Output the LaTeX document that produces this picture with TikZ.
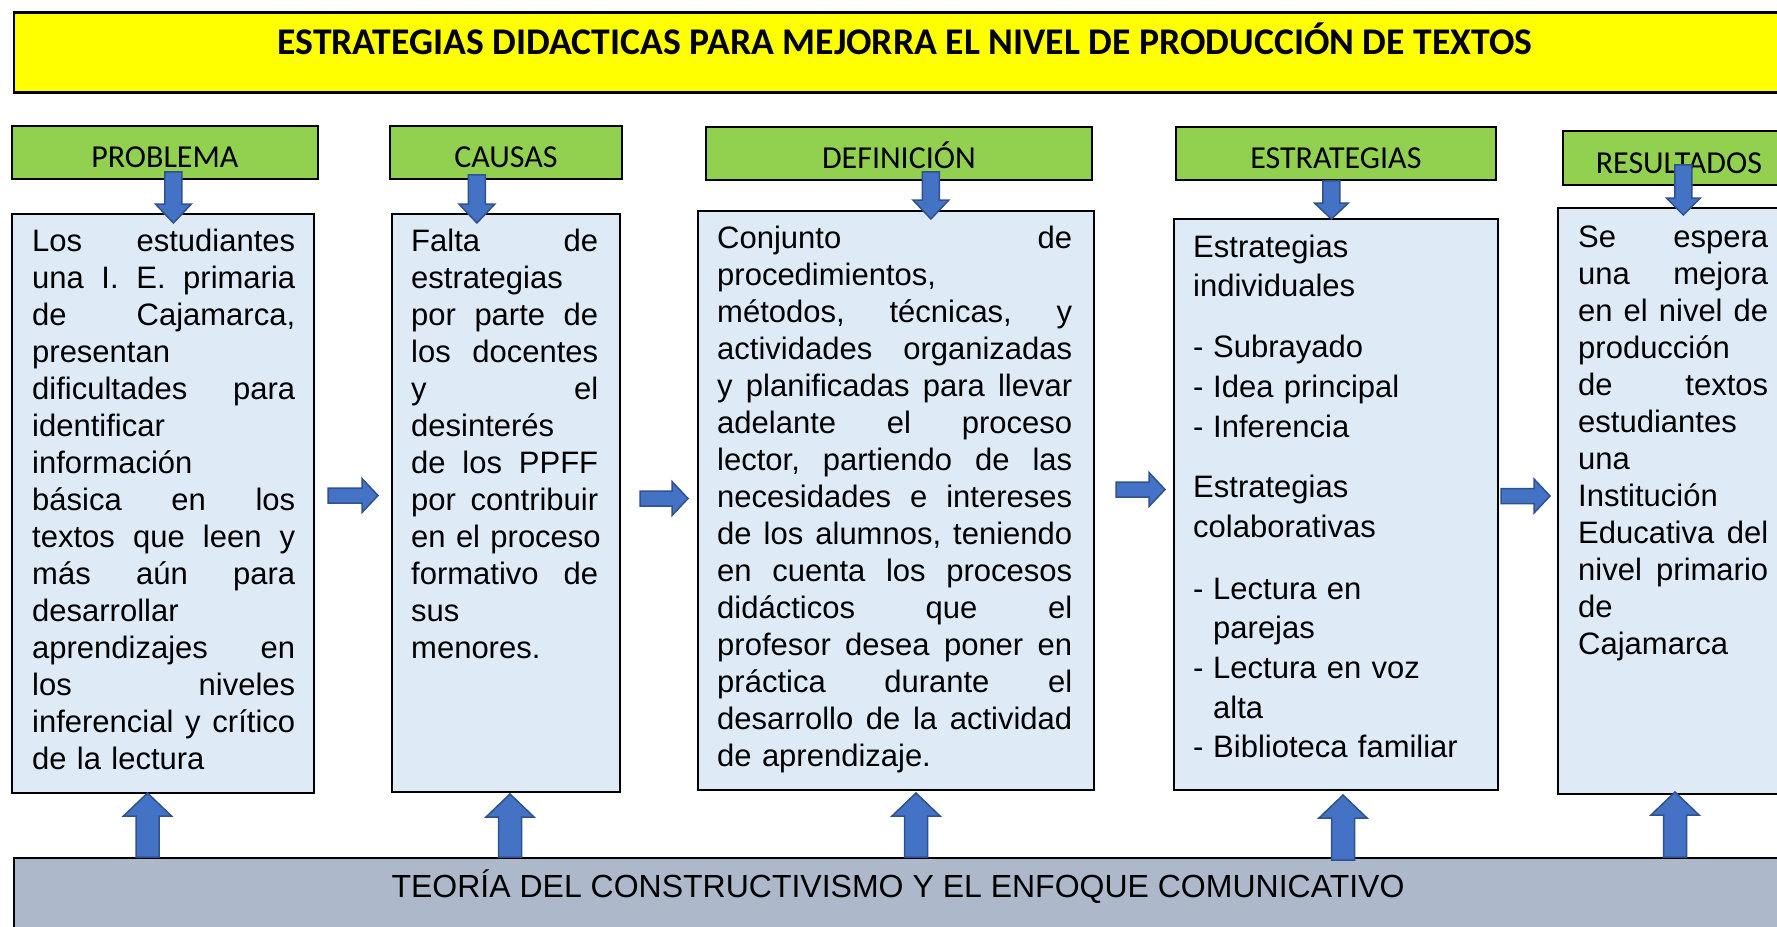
\documentclass[tikz,border=0pt]{standalone}
\usepackage{fontspec}
\setmainfont{Liberation Sans}
\newfontfamily\calib{Carlito}
\usetikzlibrary{calc}
\definecolor{ttl}{HTML}{FFFF00}
\definecolor{hdr}{HTML}{92D050}
\definecolor{bxf}{HTML}{DEEBF7}
\definecolor{barf}{HTML}{ADB9CA}
\definecolor{arf}{HTML}{4472C4}
\definecolor{ard}{HTML}{2F528F}
\newcommand\jline[1]{\leavevmode\hbox to \hsize{#1}}
\newcommand\fstrut{\rule{0pt}{30pt}}
% #1 start, #2 tip, #3 half shaft, #4 half head, #5 head length
\newcommand\blockarrow[5]{%
  \coordinate (ba-a) at (#1);
  \coordinate (ba-b) at (#2);
  \coordinate (ba-c) at ($(ba-b)!#5pt!(ba-a)$);
  \filldraw[fatarrow]
    ($(ba-a)!#3pt!90:(ba-b)$) -- ($(ba-c)!#3pt!90:(ba-b)$) --
    ($(ba-c)!#4pt!90:(ba-b)$) -- (ba-b) --
    ($(ba-c)!#4pt!-90:(ba-b)$) -- ($(ba-c)!#3pt!-90:(ba-b)$) --
    ($(ba-a)!#3pt!-90:(ba-b)$) -- cycle;}
\begin{document}
\begin{tikzpicture}[x=1pt,y=-1pt,
  ttlbox/.style={draw=black,line width=2.5pt,fill=ttl,inner sep=0pt,anchor=north west},
  hdrbox/.style={draw=black,line width=1.8pt,fill=hdr,inner sep=0pt,anchor=north west},
  hdrtxt/.style={font=\calib\fontsize{32}{38}\selectfont,anchor=base,inner sep=0pt},
  txtbox/.style={draw=black,line width=2pt,fill=bxf,inner sep=0pt,anchor=north west},
  bodytxt/.style={anchor=north west,inner sep=0pt,align=left,font=\fontsize{31}{37}\selectfont},
  barbox/.style={draw=black,line width=2pt,fill=barf,inner sep=0pt,anchor=north west},
  fatarrow/.style={fill=arf,draw=ard,line width=1.5pt,line join=miter}]
\useasboundingbox (0,0) rectangle (1777,926);
\begin{scope}
\clip (0,0) rectangle (1777,926);
% title
\node[ttlbox,minimum width=1787.5pt,minimum height=80pt] (title) at (12.5,11) {};
\node[anchor=base,inner sep=0pt,font=\calib\bfseries\fontsize{37.7}{45}\selectfont] (titletxt) at (905,54.5)
  {ESTRATEGIAS DIDACTICAS PARA MEJORRA EL NIVEL DE PRODUCCIÓN DE TEXTOS};
% headers
\node[hdrbox,minimum width=306pt,minimum height=53pt] (h1) at (11,125) {};
\node[hdrbox,minimum width=232pt,minimum height=53pt] (h2) at (389,125) {};
\node[hdrbox,minimum width=386pt,minimum height=53pt] (h3) at (705,126) {};
\node[hdrbox,minimum width=320pt,minimum height=53pt] (h4) at (1175,126) {};
\node[hdrbox,minimum width=238pt,minimum height=54pt] (h5) at (1562,130) {};
\node[hdrtxt] (h1t) at ($(h1.south)+(0,-12.5)$) {PROBLEMA};
\node[hdrtxt] (h2t) at ($(h2.south)+(0,-12.5)$) {CAUSAS};
\node[hdrtxt] (h3t) at ($(h3.south)+(0,-12)$) {DEFINICIÓN};
\node[hdrtxt] (h4t) at ($(h4.south)+(0,-12)$) {ESTRATEGIAS};
\node[hdrtxt] (h5t) at ($(h5.south)+(-3,-12)$) {RESULTADOS};
% content boxes
\node[txtbox,minimum width=302pt,minimum height=579pt] (b1) at (11,213) {};
\node[txtbox,minimum width=228pt,minimum height=578pt] (b2) at (391,213) {};
\node[txtbox,minimum width=396pt,minimum height=579pt] (b3) at (697,210) {};
\node[txtbox,minimum width=324pt,minimum height=571pt] (b4) at (1173,218) {};
\node[txtbox,minimum width=243pt,minimum height=586pt] (b5) at (1557,207) {};
\node[bodytxt,text width=263pt] (t1) at ($(b1.north west)+(21,8)$) {%
\jline{\fstrut Los \hfill estudiantes}\\
\jline{una \hfill I. \hfill E. \hfill primaria}\\
\jline{de \hfill Cajamarca,}\\
presentan\\
\jline{dificultades \hfill para}\\
identificar\\
información\\
\jline{básica \hfill en \hfill los}\\
\jline{textos \hfill que \hfill leen \hfill y}\\
\jline{más \hfill aún \hfill para}\\
desarrollar\\
\jline{aprendizajes \hfill en}\\
\jline{los \hfill niveles}\\
\jline{inferencial \hfill y \hfill crítico}\\
de la lectura};
\node[bodytxt,text width=187pt] (t2) at ($(b2.north west)+(20,8)$) {%
\jline{\fstrut Falta \hfill de}\\
estrategias\\
\jline{por \hfill parte \hfill de}\\
\jline{los \hfill docentes}\\
\jline{y \hfill el}\\
desinterés\\
\jline{de \hfill los \hfill PPFF}\\
\jline{por \hfill contribuir}\\
\jline{en \hfill el \hfill proceso}\\
\jline{formativo \hfill de}\\
sus\\
menores.};
\node[bodytxt,text width=355pt] (t3) at ($(b3.north west)+(20,8)$) {%
\jline{\fstrut Conjunto \hfill de}\\
procedimientos,\\
\jline{métodos, \hfill técnicas, \hfill y}\\
\jline{actividades \hfill organizadas}\\
\jline{y \hfill planificadas \hfill para \hfill llevar}\\
\jline{adelante \hfill el \hfill proceso}\\
\jline{lector, \hfill partiendo \hfill de \hfill las}\\
\jline{necesidades \hfill e \hfill intereses}\\
\jline{de \hfill los \hfill alumnos, \hfill teniendo}\\
\jline{en \hfill cuenta \hfill los \hfill procesos}\\
\jline{didácticos \hfill que \hfill el}\\
\jline{profesor \hfill desea \hfill poner \hfill en}\\
\jline{práctica \hfill durante \hfill el}\\
\jline{desarrollo \hfill de \hfill la \hfill actividad}\\
de aprendizaje.};
\node[bodytxt,text width=290pt,font=\fontsize{31}{39.7}\selectfont] (t4) at ($(b4.north west)+(20,9)$) {%
\fstrut Estrategias\\
individuales\\[21pt]
\makebox[20pt][l]{-}Subrayado\\
\makebox[20pt][l]{-}Idea principal\\
\makebox[20pt][l]{-}Inferencia\\[21pt]
Estrategias\\
colaborativas\\[22pt]
\makebox[20pt][l]{-}Lectura en\\
\hspace*{20pt}parejas\\
\makebox[20pt][l]{-}Lectura en voz\\
\hspace*{20pt}alta\\
\makebox[20pt][l]{-}Biblioteca familiar};
\node[bodytxt,text width=190pt] (t5) at ($(b5.north west)+(21,10)$) {%
\jline{\fstrut Se \hfill espera}\\
\jline{una \hfill mejora}\\
\jline{en \hfill el \hfill nivel \hfill de}\\
producción\\
\jline{de \hfill textos}\\
estudiantes\\
una\\
Institución\\
\jline{Educativa \hfill del}\\
\jline{nivel \hfill primario}\\
de\\
Cajamarca};
% bottom bar
\node[barbox,minimum width=1787.5pt,minimum height=83pt] (bar) at (12.5,857) {};
\node[anchor=base,inner sep=0pt,font=\fontsize{32}{38}\selectfont] (bartxt) at (898,897.5)
  {TEORÍA DEL CONSTRUCTIVISMO Y EL ENFOQUE COMUNICATIVO};
% down arrows
\coordinate (d1s) at ($(h1.south)+(8.5,-8)$);
\coordinate (d1e) at ($(d1s |- b1.north)+(0,10)$);
\blockarrow{d1s}{d1e}{8.5}{18}{19}
\coordinate (d2s) at ($(h2.south)+(-29,-5)$);
\coordinate (d2e) at ($(d2s |- b2.north)+(0,10)$);
\blockarrow{d2s}{d2e}{8.5}{18}{19}
\coordinate (d3s) at ($(h3.south)+(32,-9)$);
\coordinate (d3e) at ($(d3s |- b3.north)+(0,9)$);
\blockarrow{d3s}{d3e}{8.5}{18}{19}
\coordinate (d4s) at ($(h4.south)+(-4.5,0)$);
\coordinate (d4e) at ($(d4s |- b4.north)+(0,1)$);
\blockarrow{d4s}{d4e}{8.5}{17}{16}
\coordinate (d5s) at ($(h5.south)+(1.5,-21)$);
\coordinate (d5e) at ($(d5s |- b5.north)+(0,8)$);
\blockarrow{d5s}{d5e}{8.5}{17}{17}
% right arrows
\coordinate (r1s) at ($(b1.east)+(13,-8)$);
\coordinate (r1e) at ($(r1s -| b2.west)+(-13,0)$);
\blockarrow{r1s}{r1e}{7.5}{17}{16}
\coordinate (r2s) at ($(b2.east)+(19,-4.5)$);
\coordinate (r2e) at ($(r2s -| b3.west)+(-9,0)$);
\blockarrow{r2s}{r2e}{7.5}{17}{16}
\coordinate (r3s) at ($(b3.east)+(21,-11)$);
\coordinate (r3e) at ($(r3s -| b4.west)+(-8,0)$);
\blockarrow{r3s}{r3e}{7.5}{17}{16}
\coordinate (r4s) at ($(b4.east)+(2,-8.5)$);
\coordinate (r4e) at ($(r4s -| b5.west)+(-7,0)$);
\blockarrow{r4s}{r4e}{7.5}{17}{16}
% up arrows
\coordinate (u1s) at ($(bar.north west)+(135,0)$);
\coordinate (u1e) at ($(u1s |- b1.south)+(0,-1)$);
\blockarrow{u1s}{u1e}{11.5}{24}{23}
\coordinate (u2s) at ($(bar.north west)+(497.5,0)$);
\coordinate (u2e) at ($(u2s |- b2.south)+(0,1)$);
\blockarrow{u2s}{u2e}{11.5}{24}{23}
\coordinate (u3s) at ($(bar.north west)+(903.5,0)$);
\coordinate (u3e) at ($(u3s |- b3.south)+(0,2)$);
\blockarrow{u3s}{u3e}{11.5}{24}{23}
\coordinate (u4s) at ($(bar.north west)+(1330.5,3)$);
\coordinate (u4e) at ($(u4s |- b4.south)+(0,4)$);
\blockarrow{u4s}{u4e}{11.5}{24}{23}
\coordinate (u5s) at ($(bar.north west)+(1662.5,0)$);
\coordinate (u5e) at ($(u5s |- b5.south)+(0,-3)$);
\blockarrow{u5s}{u5e}{11.5}{24}{23}
\end{scope}
\end{tikzpicture}
\end{document}
